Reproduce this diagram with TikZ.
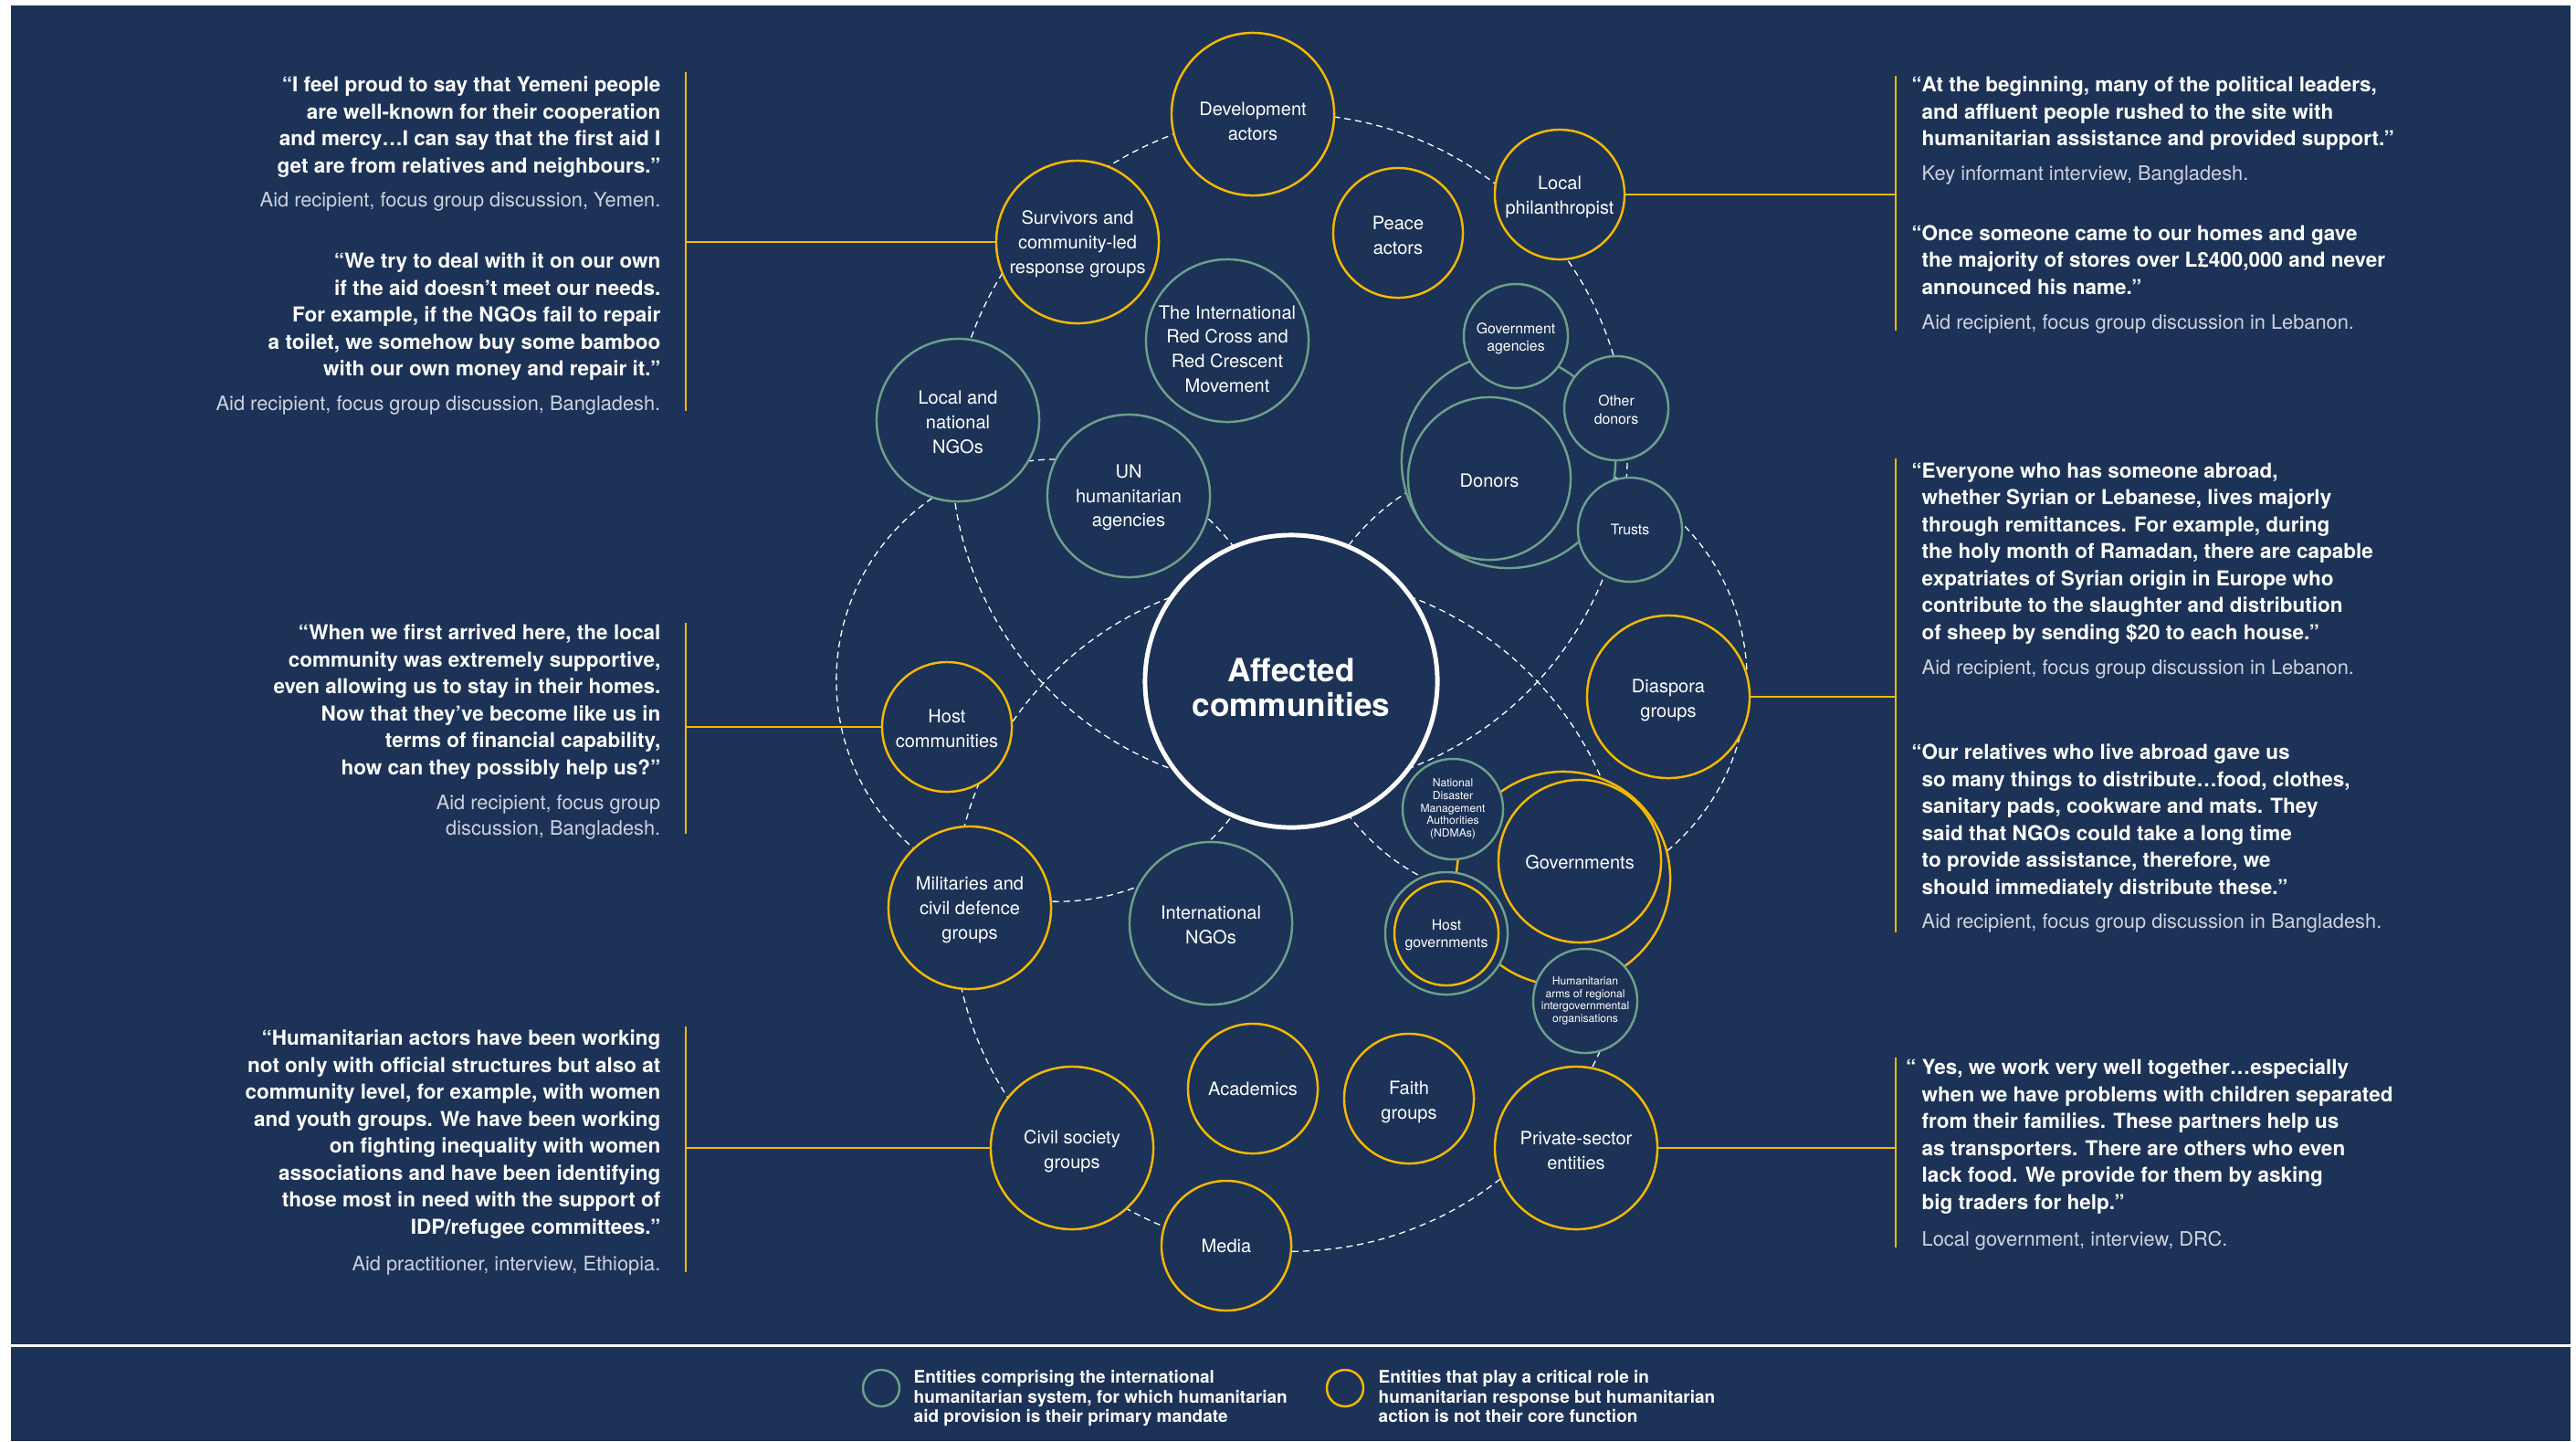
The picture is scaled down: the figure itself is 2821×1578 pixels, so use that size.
\documentclass[tikz,border=0pt]{standalone}
\usepackage{fontspec}
\setmainfont{TeX Gyre Heros}
\usepackage{xcolor}
\usetikzlibrary{calc}

\definecolor{navy}{RGB}{28,50,87}
\definecolor{gold}{RGB}{245,185,0}
\definecolor{sage}{RGB}{108,160,140}
\definecolor{source}{RGB}{205,211,222}

\newcommand{\qfont}{\fontsize{6.4}{8.4}\selectfont\bfseries}
\newcommand{\afont}{\fontsize{6.2}{8.0}\selectfont}
\newcommand{\nfont}{\fontsize{5.7}{7.6}\selectfont}
\newcommand{\sfont}{\fontsize{4.5}{5.5}\selectfont}
\newcommand{\tfont}{\fontsize{3.45}{3.9}\selectfont}
\newcommand{\kfont}{\fontsize{5.4}{6.1}\selectfont\bfseries}
% first-line strut, pushes a label down inside its circle
\newcommand{\sink}[1]{\rule{0pt}{#1}}

\begin{document}
\begin{tikzpicture}[x=0.01cm,y=-0.01cm]
  \tikzstyle{entity} = [circle, draw, line width=0.7pt, fill=navy, inner sep=0pt, align=center, text=white, font=\nfont]
  \tikzstyle{core} = [entity, draw=sage]
  \tikzstyle{crit} = [entity, draw=gold]
  \tikzstyle{big} = [minimum size=1.78cm]
  \tikzstyle{mid} = [minimum size=1.42cm]
  \tikzstyle{small} = [minimum size=1.14cm, font=\sfont]
  \tikzstyle{ring} = [white, line width=0.37pt, dash pattern=on 2pt off 1.4pt]
  \tikzstyle{link} = [gold, line width=0.7pt]
  \tikzstyle{quote} = [text=white, font=\qfont, inner sep=0pt]
  \tikzstyle{cite} = [text=source, font=\afont, inner sep=0pt]

  % page
  \fill[white] (0,0) rectangle (2821,1578);
  \fill[navy] (12,6) rectangle (2815,1578);
  \draw[white, line width=0.85pt] (12,1473) -- (2815,1473);

  % dashed rings
  \coordinate (ringN) at (1412,495);
  \coordinate (ringS) at (1414,1000);
  \coordinate (ringW) at (1158,745);
  \coordinate (ringE) at (1670,745);
  \foreach \c/\r in {ringN/3.70cm, ringS/3.70cm, ringW/2.42cm, ringE/2.43cm}
    \draw[ring] (\c) circle (\r);

  % entities
  \node[crit, big] (dev) at (1372,125) {\sink{8.7pt}Development\\actors};
  \node[crit, big] (surv) at (1180,265) {\sink{5.6pt}Survivors and\\community-led\\response groups};
  \node[crit, mid] (phil) at (1708,213) {\sink{5.9pt}Local\\philanthropist};
  \node[crit, mid] (peace) at (1531,255) {\sink{5.9pt}Peace\\actors};
  \node[core, big, inner sep=-3pt] (redcross) at (1344,373) {\sink{9.3pt}The International\\Red Cross and\\Red Crescent\\Movement};
  \node[core, big] (lngo) at (1049,460) {\sink{5.6pt}Local and\\national\\NGOs};
  \node[core, big] (un) at (1236,543) {\sink{5.3pt}UN\\humanitarian\\agencies};

  \node[core, minimum size=2.34cm] (donring) at (1652,505) {};
  \node[core, big] (donors) at (1631,524) {\sink{5.3pt}Donors};
  \node[core, small] (govag) at (1660,368) {\sink{4.8pt}Government\\agencies};
  \node[core, small] (othdon) at (1770,447) {\sink{4.3pt}Other\\donors};
  \node[core, small] (trusts) at (1785,580) {Trusts};

  \node[entity, draw=white, line width=1.4pt, minimum size=3.2cm, font=\fontsize{10}{10.8}\selectfont\bfseries] (affected) at (1414,746) {\sink{11.2pt}Affected\\communities};

  \node[crit, mid] (host) at (1037,796) {\sink{5.3pt}Host\\communities};
  \node[crit, big] (diaspora) at (1827,763) {\sink{6.2pt}Diaspora\\groups};

  \node[crit, minimum size=2.34cm] (govring) at (1712,962) {};
  \node[crit, big] (govs) at (1730,943) {\sink{5.0pt}Governments};
  \node[core, minimum size=1.10cm, font=\tfont] (ndma) at (1591,886) {National\\Disaster\\Management\\Authorities\\(NDMAs)};
  \node[core, minimum size=1.34cm, font=\sfont] (hostgov) at (1584,1022) {\sink{4.3pt}Host\\governments};
  \draw[gold, line width=0.7pt] (hostgov) circle (0.57cm);
  \node[core, small, font=\tfont] (humarms) at (1736,1096) {Humanitarian\\arms of regional\\intergovernmental\\organisations};

  \node[crit, big] (mil) at (1062,994) {\sink{5.6pt}Militaries and\\civil defence\\groups};
  \node[core, big] (ingo) at (1326,1011) {\sink{5.3pt}International\\NGOs};
  \node[crit, mid] (acad) at (1372,1192) {Academics};
  \node[crit, mid] (faith) at (1543,1203) {\sink{6.2pt}Faith\\groups};
  \node[crit, big] (civil) at (1174,1257) {\sink{6.2pt}Civil society\\groups};
  \node[crit, mid] (media) at (1343,1364) {\sink{4.6pt}Media};
  \node[crit, big] (private) at (1726,1257) {\sink{5.6pt}Private-sector\\entities};

  % quote brackets
  \coordinate (lbarAt) at (751,79);   \coordinate (lbarAb) at (751,450);
  \coordinate (lbarBt) at (751,682);  \coordinate (lbarBb) at (751,913);
  \coordinate (lbarCt) at (751,1124); \coordinate (lbarCb) at (751,1393);
  \coordinate (rbarAt) at (2076,83);  \coordinate (rbarAb) at (2076,362);
  \coordinate (rbarBt) at (2076,502); \coordinate (rbarBb) at (2076,1021);
  \coordinate (rbarCt) at (2076,1158);\coordinate (rbarCb) at (2076,1366);
  \foreach \b in {lbarA, lbarB, lbarC, rbarA, rbarB, rbarC}
    \draw[link] (\b t) -- (\b b);
  \foreach \n/\b in {surv/lbarAt, host/lbarBt, civil/lbarCt}
    \draw[link] (\n.west) -- (\n.west -| \b);
  \foreach \n/\b in {phil/rbarAt, diaspora/rbarBt, private/rbarCt}
    \draw[link] (\n.east) -- (\n.east -| \b);

  % quotes, left
  \node[quote, align=right, anchor=north east] (qyemen) at (724,83) {“I feel proud to say that Yemeni people\\are well-known for their cooperation\\and mercy…I can say that the first aid I\\get are from relatives and neighbours.”};
  \node[cite, align=right, anchor=north east] (cyemen) at (724,210) {Aid recipient, focus group discussion, Yemen.};
  \node[quote, align=right, anchor=north east] (qbamboo) at (724,276) {“We try to deal with it on our own\\if the aid doesn't meet our needs.\\For example, if the NGOs fail to repair\\a toilet, we somehow buy some bamboo\\with our own money and repair it.”};
  \node[cite, align=right, anchor=north east] (cbamboo) at (724,433) {Aid recipient, focus group discussion, Bangladesh.};
  \node[quote, align=right, anchor=north east] (qhomes) at (724,683) {“When we first arrived here, the local\\community was extremely supportive,\\even allowing us to stay in their homes.\\Now that they've become like us in\\terms of financial capability,\\how can they possibly help us?”};
  \node[cite, align=right, anchor=north east] (chomes) at (724,870) {Aid recipient, focus group\\discussion, Bangladesh.};
  \node[quote, align=right, anchor=north east] (qwomen) at (724,1127) {“Humanitarian actors have been working\\not only with official structures but also at\\community level, for example, with women\\and youth groups. We have been working\\on fighting inequality with women\\associations and have been identifying\\those most in need with the support of\\IDP/refugee committees.”};
  \node[cite, align=right, anchor=north east] (cwomen) at (724,1375) {Aid practitioner, interview, Ethiopia.};

  % quotes, right
  \node[quote, align=left, anchor=north west] (qleaders) at (2104,83) {\llap{“}At the beginning, many of the political leaders,\\and affluent people rushed to the site with\\humanitarian assistance and provided support.”};
  \node[cite, align=left, anchor=north west] (cleaders) at (2104,181) {Key informant interview, Bangladesh.};
  \node[quote, align=left, anchor=north west] (qstores) at (2104,246) {\llap{“}Once someone came to our homes and gave\\the majority of stores over L£400,000 and never\\announced his name.”};
  \node[cite, align=left, anchor=north west] (cstores) at (2104,344) {Aid recipient, focus group discussion in Lebanon.};
  \node[quote, align=left, anchor=north west] (qsheep) at (2104,506) {\llap{“}Everyone who has someone abroad,\\whether Syrian or Lebanese, lives majorly\\through remittances. For example, during\\the holy month of Ramadan, there are capable\\expatriates of Syrian origin in Europe who\\contribute to the slaughter and distribution\\of sheep by sending \$20 to each house.”};
  \node[cite, align=left, anchor=north west] (csheep) at (2104,722) {Aid recipient, focus group discussion in Lebanon.};
  \node[quote, align=left, anchor=north west] (qmats) at (2104,814) {\llap{“}Our relatives who live abroad gave us\\so many things to distribute…food, clothes,\\sanitary pads, cookware and mats. They\\said that NGOs could take a long time\\to provide assistance, therefore, we\\should immediately distribute these.”};
  \node[cite, align=left, anchor=north west] (cmats) at (2104,1000) {Aid recipient, focus group discussion in Bangladesh.};
  \node[quote, align=left, anchor=north west] (qtraders) at (2104,1159) {\llap{“ }Yes, we work very well together…especially\\when we have problems with children separated\\from their families. These partners help us\\as transporters. There are others who even\\lack food. We provide for them by asking\\big traders for help.”};
  \node[cite, align=left, anchor=north west] (ctraders) at (2104,1347) {Local government, interview, DRC.};

  % key
  \node[core, minimum size=0.40cm] (keysys) at (965,1520) {};
  \node[crit, minimum size=0.40cm] (keycrit) at (1473,1520) {};
  \node[text=white, font=\kfont, align=left, anchor=north west, inner sep=0pt] (keysystext) at (1000,1500) {Entities comprising the international\\humanitarian system, for which humanitarian\\aid provision is their primary mandate};
  \node[text=white, font=\kfont, align=left, anchor=north west, inner sep=0pt] (keycrittext) at (1509,1500) {Entities that play a critical role in\\humanitarian response but humanitarian\\action is not their core function};
\end{tikzpicture}
\end{document}
